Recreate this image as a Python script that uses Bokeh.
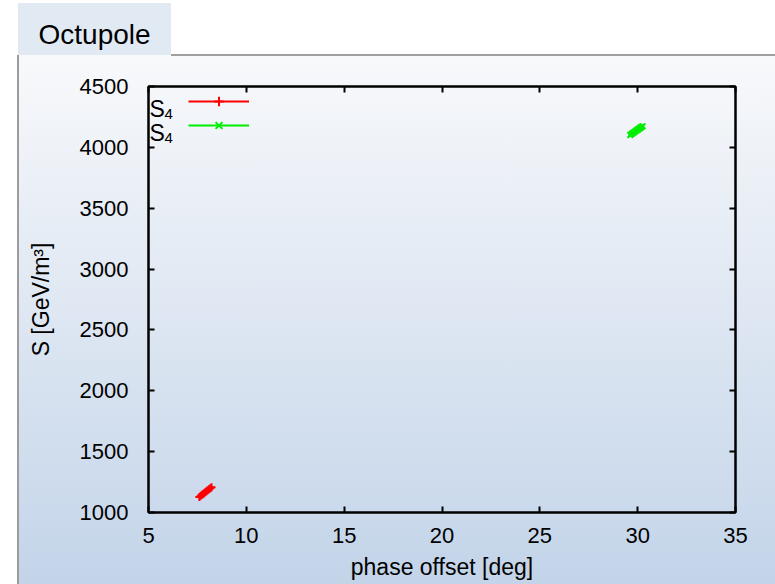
from bokeh.plotting import figure
from bokeh.models import (Range1d, LinearAxis, SingleIntervalTicker, CustomJSTickFormatter,
                          Legend, LegendItem, Label, InlineStyleSheet, ColumnDataSource)
from bokeh.embed import file_html
from bokeh.resources import INLINE

# ---- data ----
x_ticks_interval = 5
y_ticks_interval = 500
red_x = [7.60, 7.67, 7.74, 7.81, 7.88, 7.95, 8.02, 8.09, 8.16, 8.22]
red_y = [1128, 1137, 1146, 1155, 1164, 1173, 1182, 1191, 1200, 1208]
red_xerr = [0.08, 0.08, 0.08, 0.08, 0.08, 0.08, 0.08, 0.08, 0.08, 0.08]
green_x = [29.62, 29.69, 29.76, 29.83, 29.90, 29.97, 30.04, 30.11, 30.18, 30.25]
green_y = [4102, 4110, 4118, 4126, 4134, 4142, 4150, 4158, 4166, 4174]
green_xerr = [0.08, 0.08, 0.08, 0.08, 0.08, 0.08, 0.08, 0.08, 0.08, 0.08]
series_label = "S"
series_sub = "4"
title_text = "Octupole"
x_label = "phase offset [deg]"
y_label = "S [GeV/m\u00b3]"

FONT = "Liberation Sans"

# the canvas is 17px taller than the window and shifted up by 17px,
# which leaves room for the tab title above the frame
css = """
:host {
  margin-top: -17px;
  background:
    linear-gradient(#9c9c9c, #9c9c9c) 17px 72px / 2px 529px no-repeat,
    linear-gradient(#a0a0a0, #a0a0a0) 171px 71px / 604px 2px no-repeat,
    linear-gradient(#e1e9f3, #e1e9f3) 18px 20px / 153px 52px no-repeat,
    linear-gradient(to bottom, #f8f9fb, #c3d4e9) 18px 72px / 757px 529px no-repeat,
    #ffffff;
}
"""

p = figure(width=775, height=601, output_backend="svg", toolbar_location=None,
           x_range=Range1d(5, 35), y_range=Range1d(1000, 4500),
           min_border_left=148, min_border_right=40, min_border_top=101, min_border_bottom=72)
p.stylesheets = [InlineStyleSheet(css=css)]
p.background_fill_color = None
p.border_fill_color = None
p.outline_line_color = "black"
p.outline_line_width = 2
p.grid.visible = False

p.title.text = title_text
p.title.text_font = FONT
p.title.text_font_size = "28px"
p.title.text_font_style = "normal"
p.title.text_color = "black"
p.title.align = "left"
p.title.offset = -110
p.title.standoff = 66

xt = SingleIntervalTicker(interval=x_ticks_interval)
yt = SingleIntervalTicker(interval=y_ticks_interval)
p.xaxis.ticker = xt
p.yaxis.ticker = yt

def style_axis(ax):
    ax.axis_line_width = 2
    ax.axis_line_color = "black"
    ax.major_tick_in = 6
    ax.major_tick_out = 0
    ax.major_tick_line_width = 2
    ax.minor_tick_line_color = None
    ax.major_label_text_font = FONT
    ax.major_label_text_font_size = "22px"
    ax.major_label_text_color = "black"
    ax.axis_label_text_font = FONT
    ax.axis_label_text_font_size = "23px"
    ax.axis_label_text_font_style = "normal"
    ax.axis_label_text_color = "black"

for ax in p.xaxis + p.yaxis:
    style_axis(ax)

p.xaxis.axis_label = x_label
p.yaxis.axis_label = y_label
p.xaxis.major_label_standoff = 11
p.xaxis.axis_label_standoff = 8
p.yaxis.major_label_standoff = 16
p.yaxis.axis_label_standoff = 23

blank = CustomJSTickFormatter(code="return ''")
top = LinearAxis(ticker=SingleIntervalTicker(interval=x_ticks_interval), formatter=blank)
right = LinearAxis(ticker=SingleIntervalTicker(interval=y_ticks_interval), formatter=blank)
for ax in (top, right):
    style_axis(ax)
    ax.major_label_standoff = 0
p.add_layout(top, "above")
p.add_layout(right, "right")

# ---- data glyphs ----
def add_series(xs, ys, errs, color, marker):
    src = ColumnDataSource(dict(x=xs, y=ys,
                                x0=[a - e for a, e in zip(xs, errs)],
                                x1=[a + e for a, e in zip(xs, errs)]))
    seg = p.segment(x0="x0", y0="y", x1="x1", y1="y", source=src, line_color=color, line_width=2)
    sc = p.scatter(x="x", y="y", source=src, marker=marker, size=8, line_color=color,
                   fill_color=color, line_width=2)
    return seg, sc

r_seg, r_sc = add_series(red_x, red_y, red_xerr, "#ff0000", "cross")
g_seg, g_sc = add_series(green_x, green_y, green_xerr, "#00ee00", "x")

legend = Legend(items=[LegendItem(label=" ", renderers=[r_seg, r_sc]),
                       LegendItem(label=" ", renderers=[g_seg, g_sc])],
                location=(40, 375), padding=0, margin=0, spacing=0,
                glyph_width=61, glyph_height=24, label_height=24,
                label_text_font_size="8px", label_standoff=0, label_width=0,
                border_line_color=None, background_fill_color=None)
p.add_layout(legend, "center")

# legend text (gnuplot style: text left of the sample)
for sy, subsy in ((404, 399), (380, 375)):
    p.add_layout(Label(x=1, y=sy, x_units="screen", y_units="screen", text=series_label,
                       text_font=FONT, text_font_size="23px", text_color="black",
                       text_baseline="alphabetic"))
    p.add_layout(Label(x=16, y=subsy, x_units="screen", y_units="screen", text=series_sub,
                       text_font=FONT, text_font_size="15px", text_color="black",
                       text_baseline="alphabetic"))

open("out.html", "w").write(file_html(p, INLINE))
